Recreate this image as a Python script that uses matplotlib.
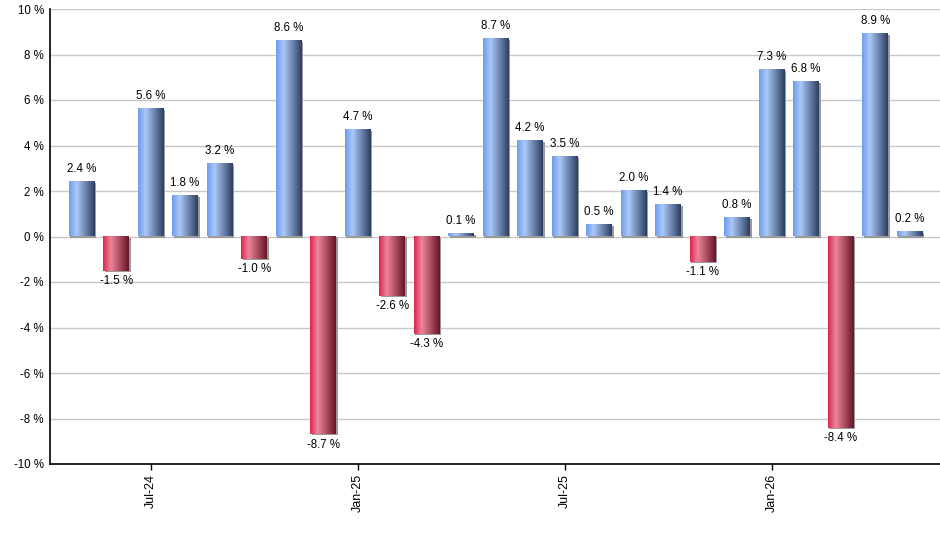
import numpy as np
import matplotlib
matplotlib.use('Agg')
import matplotlib.pyplot as plt
import matplotlib.transforms as mtransforms
from matplotlib.colors import LinearSegmentedColormap
from matplotlib.patches import Rectangle

# monthly returns, May-24 .. May-26
months = ['May-24', 'Jun-24', 'Jul-24', 'Aug-24', 'Sep-24', 'Oct-24', 'Nov-24', 'Dec-24',
          'Jan-25', 'Feb-25', 'Mar-25', 'Apr-25', 'May-25', 'Jun-25', 'Jul-25', 'Aug-25',
          'Sep-25', 'Oct-25', 'Nov-25', 'Dec-25', 'Jan-26', 'Feb-26', 'Mar-26', 'Apr-26',
          'May-26']
returns = [2.4, -1.5, 5.6, 1.8, 3.2, -1.0, 8.6, -8.7, 4.7, -2.6, -4.3, 0.1, 8.7,
           4.2, 3.5, 0.5, 2.0, 1.4, -1.1, 0.8, 7.3, 6.8, -8.4, 8.9, 0.2]
tick_months = ['Jul-24', 'Jan-25', 'Jul-25', 'Jan-26']
y_ticks = [-10, -8, -6, -4, -2, 0, 2, 4, 6, 8, 10]

plt.rcParams['font.family'] = ['Liberation Sans', 'DejaVu Sans']

blue_cmap = LinearSegmentedColormap.from_list(
    'blue_bar', [(0.0, '#6c9cee'), (0.3, '#abc8f8'), (1.0, '#2b3e60')])
red_cmap = LinearSegmentedColormap.from_list(
    'red_bar', [(0.0, '#da2650'), (0.3, '#ee8599'), (1.0, '#661527')])

fig = plt.figure(figsize=(9.4, 5.5), dpi=100)
fig.patch.set_facecolor('white')
ax = fig.add_axes([49.5 / 940, 86 / 550, 890.5 / 940, 455 / 550])

width = 0.75
grad = np.linspace(0, 1, 256).reshape(1, -1)
shadow_tr = ax.transData + mtransforms.ScaledTranslation(1.5 / 100, -1 / 100, fig.dpi_scale_trans)

x = np.arange(len(months))
for xi, v in zip(x, returns):
    x0, x1 = xi - width / 2, xi + width / 2
    y0, y1 = min(0, v), max(0, v)
    # 影
    ax.add_patch(Rectangle((x0, y0), width, y1 - y0, transform=shadow_tr,
                           facecolor='#9a9a9a', edgecolor='none', zorder=2.5))
    cmap = blue_cmap if v >= 0 else red_cmap
    ax.imshow(grad, cmap=cmap, extent=[x0, x1, y0, y1], aspect='auto',
              interpolation='bilinear', zorder=3)
    if v >= 0:
        ax.annotate(f'{v:.1f} %', (xi, v), xytext=(0, 5), textcoords='offset points',
                    ha='center', va='bottom', fontsize=8.3, zorder=4)
    else:
        ax.annotate(f'{v:.1f} %', (xi, v), xytext=(0, -3), textcoords='offset points',
                    ha='center', va='top', fontsize=8.3, zorder=4)

ax.set_xlim(-0.93, 24.88)
ax.set_ylim(-10, 10)

ax.set_yticks(y_ticks)
ax.set_yticklabels([f'{t} %' for t in y_ticks], fontsize=8.3)
ax.tick_params(axis='y', length=0, pad=4)
ax.yaxis.grid(True, color='#c8c8c8', linewidth=1)
ax.set_axisbelow(True)

ax.set_xticks([months.index(m) for m in tick_months])
ax.set_xticklabels(tick_months, rotation=90, fontsize=9)
ax.tick_params(axis='x', length=4, width=1, direction='out', pad=3)

for side in ['top', 'right']:
    ax.spines[side].set_visible(False)
ax.spines['left'].set_linewidth(1.2)
ax.spines['bottom'].set_linewidth(1.2)

fig.savefig('out.png', dpi=100, facecolor='white')
